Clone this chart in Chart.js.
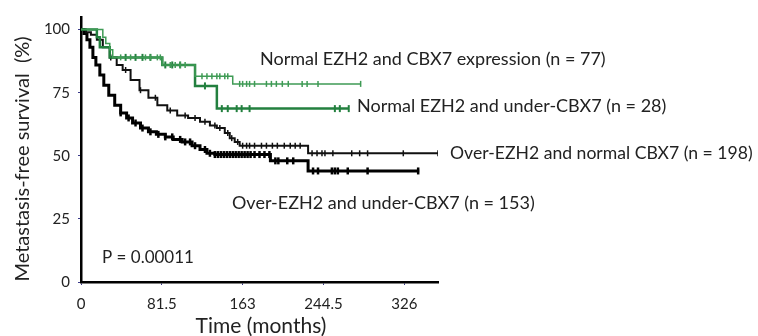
<!DOCTYPE html>
<html>
<head>
<meta charset="utf-8">
<script src="https://cdn.jsdelivr.net/npm/chart.js@4/dist/chart.umd.min.js"></script>
<style>
  html, body { margin: 0; padding: 0; background: #fff; }
  #wrap { width: 758px; height: 336px; }
</style>
</head>
<body>
<div id="wrap"><canvas id="kmChart"></canvas></div>
<script>
// ---------------- data (months / % metastasis-free) ----------------
var xTicks = [0, 81.5, 163, 244.5, 326];
var yTicks = [0, 25, 50, 75, 100];

// Normal EZH2 and CBX7 expression (n = 77)
var normalT = [0, 22, 25, 29, 32, 82, 115, 153, 282];
var normalS = [100, 97, 94.5, 92, 89, 86, 81.5, 78.5, 78.5];
var normalCensor = [40, 50, 65, 70, 77, 80, 90, 95, 100, 105, 122, 127, 132, 137, 140, 145, 148,
  160, 163, 167, 170, 175, 187, 192, 197, 203, 209, 223, 228, 239, 282];

// Normal EZH2 and under-CBX7 (n = 28)
var underT = [0, 16, 19, 29, 82, 115, 137, 270];
var underS = [100, 97, 93, 89, 86, 77.7, 68.7, 68.7];
var underCensor = [45, 55, 62, 70, 85, 92, 100, 125, 142, 148, 157, 162, 170, 256, 261, 270];

// Over-EZH2 and normal CBX7 (n = 198)
var overNormT = [0, 5, 10, 16, 22, 29, 36, 42, 50, 59, 68, 77, 87, 97, 108, 120, 130, 137, 145, 150, 155, 160, 229, 360];
var overNormS = [100, 99, 98, 96, 93, 89, 86, 84, 80, 76, 73, 70, 68, 66, 65, 63.5, 62, 61, 59, 57, 55.5, 54, 51, 51];
var overNormCensor = [30, 45, 60, 75, 90, 105, 115, 125, 135, 140, 148, 152, 158, 163, 167, 170, 175, 182, 187,
  193, 198, 205, 211, 216, 221, 233, 238, 243, 246, 254, 273, 281, 289, 325, 360];

// Over-EZH2 and under-CBX7 (n = 153)
var overUnderT = [0, 3, 6, 9, 12, 15, 19, 23, 28, 34, 40, 46, 52, 60, 68, 76, 85, 93, 102, 112, 120, 127, 135, 191, 229, 341];
var overUnderS = [100, 98.5, 96, 93, 89, 86, 82, 78, 74, 70, 67, 65, 63, 61, 59.5, 58.5, 57.5, 56.5, 55.5, 54, 52.5, 51, 50.5, 48, 44, 44];
var overUnderCensor = [40, 48, 55, 62, 70, 78, 85, 92, 100, 105, 110, 115, 125, 130, 135, 138, 141, 144, 147, 150, 153,
  156, 159, 162, 165, 168, 171, 175, 180, 185, 190, 196, 199, 208, 214, 234, 239, 253, 256, 259, 269, 289, 340];

var labels = [
  { text: "Normal EZH2 and CBX7 expression (n = 77)", x: 260, y: 59, size: 18 },
  { text: "Normal EZH2 and under-CBX7 (n = 28)", x: 357, y: 106, size: 18 },
  { text: "Over-EZH2 and normal CBX7 (n = 198)", x: 450, y: 153, size: 17.6 },
  { text: "Over-EZH2 and under-CBX7 (n = 153)", x: 232, y: 203, size: 18 },
  { text: "P = 0.00011", x: 102, y: 258, size: 17 }
];

// ---------------- helpers ----------------
function pts(t, s) {
  return t.map(function (v, i) { return { x: v, y: s[i] }; });
}
// survival value of a step curve at time tt (for censor marks)
function survAt(t, s, tt) {
  var val = s[0];
  for (var i = 0; i < t.length; i++) { if (t[i] <= tt) val = s[i]; }
  return val;
}
function censorPts(t, s, c) {
  return c.map(function (v) { return { x: v, y: survAt(t, s, v) }; });
}

function curve(t, s, color, width) {
  return {
    type: "line", data: pts(t, s), borderColor: color, borderWidth: width,
    stepped: true, pointRadius: 0, fill: false, tension: 0
  };
}
function marks(t, s, c, color, width, r) {
  return {
    type: "scatter", data: censorPts(t, s, c), borderColor: color, backgroundColor: color,
    pointStyle: "line", rotation: 90, pointRadius: r, borderWidth: width, pointHoverRadius: r
  };
}

var textPlugin = {
  id: "texts",
  afterDraw: function (chart) {
    var ctx = chart.ctx;
    ctx.save();
    ctx.fillStyle = "#222";
    ctx.textBaseline = "middle";
    ctx.textAlign = "left";
    labels.forEach(function (l) {
      ctx.font = l.size + "px Lato";
      ctx.fillText(l.text, l.x, l.y);
    });
    // axis titles
    ctx.textAlign = "center";
    ctx.font = "21px Lato";
    ctx.fillText("Time (months)", 261, 326);
    ctx.translate(23, 159);
    ctx.rotate(-Math.PI / 2);
    ctx.font = "20px Lato";
    ctx.fillText("Metastasis-free survival  (%)", 0, 0);
    ctx.restore();
  }
};

new Chart("kmChart", {
  data: {
    datasets: [
      curve(normalT, normalS, "#3f9b55", 1.5),
      marks(normalT, normalS, normalCensor, "#3f9b55", 1.5, 3),
      curve(underT, underS, "#23803f", 2.5),
      marks(underT, underS, underCensor, "#23803f", 2, 3.5),
      curve(overNormT, overNormS, "#111111", 2),
      marks(overNormT, overNormS, overNormCensor, "#111111", 1.5, 3),
      curve(overUnderT, overUnderS, "#000000", 3),
      marks(overUnderT, overUnderS, overUnderCensor, "#000000", 2.5, 3.5)
    ]
  },
  options: {
    responsive: true,
    maintainAspectRatio: false,
    animation: false,
    layout: { padding: { left: 0, top: 13, right: 320, bottom: 0 } },
    plugins: { legend: { display: false }, tooltip: { enabled: false } },
    scales: {
      x: {
        type: "linear", min: 0, max: 360,
        afterBuildTicks: function (s) { s.ticks = xTicks.map(function (v) { return { value: v }; }); },
        afterFit: function (s) { s.height = 54; },
        grid: { drawOnChartArea: false, tickLength: 3, tickColor: "#3a3a8a" },
        border: { color: "#000", width: 2.5 },
        ticks: { color: "#222", font: { family: "Lato", size: 15 }, padding: 10, maxRotation: 0,
          callback: function (v) { return String(v); } }
      },
      y: {
        type: "linear", min: 0, max: 105,
        afterBuildTicks: function (s) { s.ticks = yTicks.map(function (v) { return { value: v }; }); },
        afterFit: function (s) { s.width = 81; },
        grid: { drawOnChartArea: false, tickLength: 3, tickColor: "#3a3a8a" },
        border: { color: "#000", width: 2.5 },
        ticks: { color: "#222", font: { family: "Lato", size: 15 }, padding: 8 }
      }
    }
  },
  plugins: [textPlugin]
});
</script>
</body>
</html>
